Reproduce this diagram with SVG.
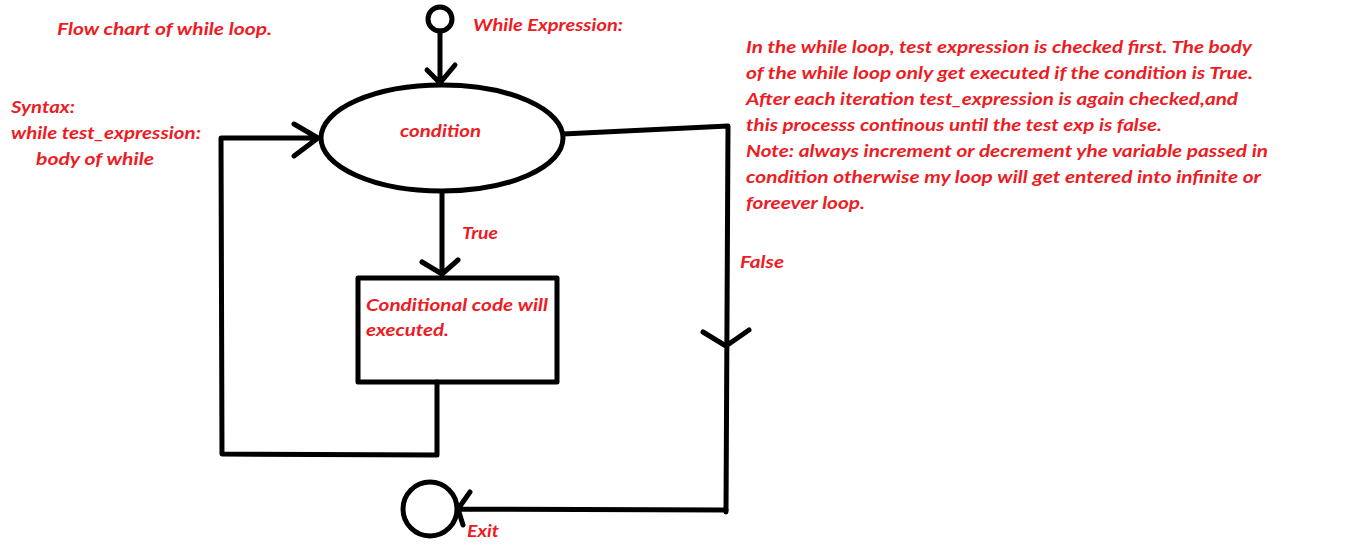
<svg xmlns="http://www.w3.org/2000/svg" width="1355" height="558" viewBox="0 0 1355 558">
<style>
.t{font-family:Lato,"Open Sans","Liberation Sans",sans-serif;font-weight:bold;font-style:italic;font-size:17.5px;fill:#ed1c24}
.s{fill:none;stroke:#000;stroke-width:5;stroke-linecap:round;stroke-linejoin:round}
</style>
<rect width="1355" height="558" fill="#fff"/>
<g id="labels">
<text class="t" x="57" y="35" textLength="215" lengthAdjust="spacingAndGlyphs">Flow chart of while loop.</text>
<text class="t" x="11" y="113" textLength="64" lengthAdjust="spacingAndGlyphs">Syntax:</text>
<text class="t" x="11" y="139" textLength="190" lengthAdjust="spacingAndGlyphs">while test_expression:</text>
<text class="t" x="36" y="165" textLength="118" lengthAdjust="spacingAndGlyphs">body of while</text>
<text class="t" x="473" y="31" textLength="150" lengthAdjust="spacingAndGlyphs">While Expression:</text>
<text class="t" x="462" y="239" textLength="36" lengthAdjust="spacingAndGlyphs">True</text>
<text class="t" x="740" y="268" textLength="44" lengthAdjust="spacingAndGlyphs">False</text>
<text class="t" x="467" y="537" textLength="32" lengthAdjust="spacingAndGlyphs">Exit</text>
</g>
<g id="note">
<text class="t" x="746" y="53" textLength="506" lengthAdjust="spacingAndGlyphs">In the while loop, test expression is checked first. The body</text>
<text class="t" x="746" y="79" textLength="507" lengthAdjust="spacingAndGlyphs">of the while loop only get executed if the condition is True.</text>
<text class="t" x="746" y="105" textLength="492" lengthAdjust="spacingAndGlyphs">After each iteration test_expression is again checked,and</text>
<text class="t" x="746" y="131" textLength="416" lengthAdjust="spacingAndGlyphs">this processs continous until the test exp is false.</text>
<text class="t" x="746" y="157" textLength="522" lengthAdjust="spacingAndGlyphs">Note: always increment or decrement yhe variable passed in</text>
<text class="t" x="746" y="183" textLength="515" lengthAdjust="spacingAndGlyphs">condition otherwise my loop will get entered into infinite or</text>
<text class="t" x="746" y="209" textLength="119" lengthAdjust="spacingAndGlyphs">foreever loop.</text>
</g>
<g id="start">
<circle class="s" cx="440" cy="19" r="12" stroke-width="4"/>
</g>
<g id="condition">
<ellipse class="s" cx="442" cy="138" rx="121" ry="53"/>
<text class="t" x="400" y="137" textLength="81" lengthAdjust="spacingAndGlyphs">condition</text>
</g>
<g id="body">
<rect class="s" x="358" y="278" width="199" height="104"/>
<text class="t" x="366" y="311" textLength="182" lengthAdjust="spacingAndGlyphs">Conditional code will</text>
<text class="t" x="366" y="336" textLength="83" lengthAdjust="spacingAndGlyphs">executed.</text>
</g>
<g id="exit">
<circle class="s" cx="430" cy="509" r="27"/>
</g>
<g id="connectors">
<path class="s" d="M440 31 L440 84 M427 70 L440 83 L455 65"/>
<path class="s" d="M442 192 L442 274 M422 262 L442 274 L458 260"/>
<path class="s" d="M563 134 L728 126 L726 512 M703 332 L726 346 L749 330"/>
<path class="s" d="M726 510 L458 509 M470 492 L458 509 L463 525"/>
<path class="s" d="M437 382 L437 455 L222 454 L221 138 L318 138 M294 124 L318 138 L294 156"/>
</g>
</svg>
